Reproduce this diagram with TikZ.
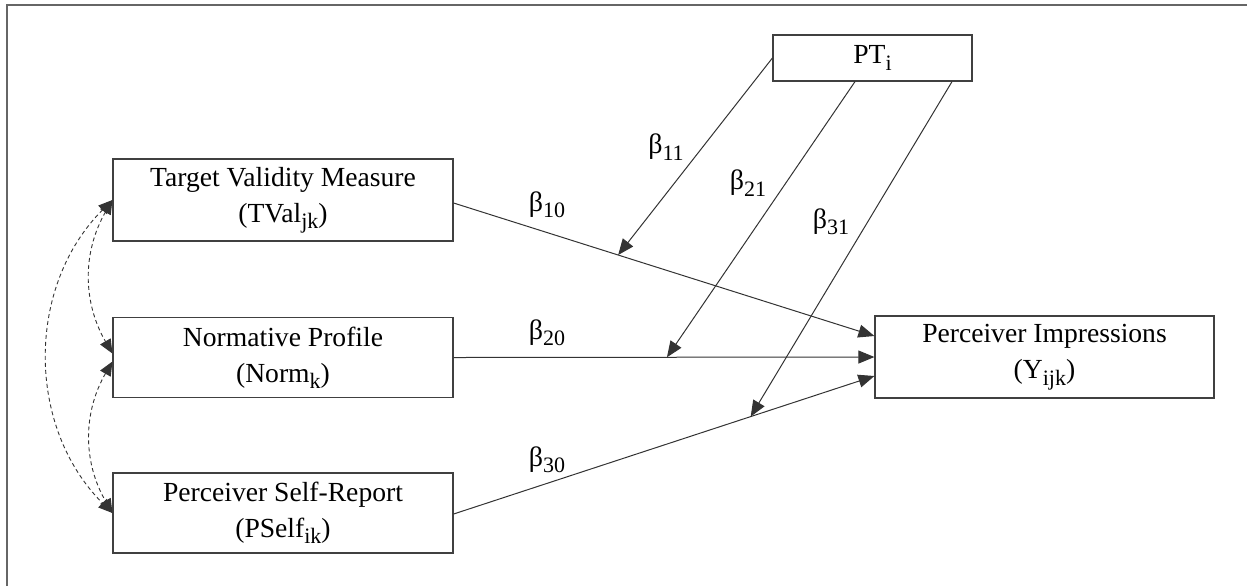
\documentclass[tikz,border=0pt]{standalone}
\usepackage{fontspec}
\setmainfont{Liberation Serif}
\usetikzlibrary{arrows.meta,calc}
\newcommand{\lowidx}[1]{\raisebox{-3.2pt}{\fontsize{11}{11}\selectfont #1}}
\tikzset{
  box/.style={draw=black!75, line width=0.6pt, minimum width=170pt, minimum height=40pt, align=center, inner sep=0pt, font=\fontsize{13.8}{18}\selectfont},
  link/.style={-{Triangle[length=8pt,width=6.5pt]}, line width=0.5pt, draw=black!80},
  corr/.style={{Triangle[length=7pt,width=6pt]}-{Triangle[length=7pt,width=6pt]}, dash pattern=on 2pt off 1.5pt, line width=0.45pt, draw=black!80},
  coef/.style={font=\fontsize{14}{16}\selectfont, inner sep=1pt},
}
\begin{document}
\begin{tikzpicture}[x=0.5pt,y=-0.5pt]
\useasboundingbox (0,0) rectangle (1247,586);
\draw[black!60, line width=0.75pt] (7,586) -- (7,5) -- (1247,5);

\node[box, minimum height=41pt] (tval) at (283,200) {Target Validity Measure\\(TVal\lowidx{jk})};
\node[box] (norm) at (283,357.5) {Normative Profile\\(Norm\lowidx{k})};
\node[box] (pself) at (283,513) {Perceiver Self-Report\\(PSelf\lowidx{ik})};
\node[box, minimum width=169.5pt, minimum height=41pt] (yijk) at (1044.5,357) {Perceiver Impressions\\(Y\lowidx{ijk})};
\node[box, minimum width=99.5pt, minimum height=23pt] (pt) at (872.5,58) {PT\lowidx{i}};

\draw[link] ($(tval.east)+(0,3)$) -- coordinate[pos=0.391] (m1) ($(yijk.west)+(0,-21)$);
\draw[link] (norm.east) -- coordinate[pos=0.507] (m2) (yijk.west);
\draw[link] ($(pself.east)+(0,1)$) -- coordinate[pos=0.706] (m3) ($(yijk.west)+(0,19)$);

\draw[link] (pt.west) -- (m1);
\draw[link] ($(pt.south)+(-17.5,0)$) -- (m2);
\draw[link] ($(pt.south)+(79.5,0)$) -- (m3);

\draw[corr] (tval.west) to[bend right=30] ($(norm.west)+(0,-4)$);
\draw[corr] ($(norm.west)+(0,4)$) to[bend right=30] (pself.west);
\draw[corr] (tval.west) to[bend right=45] (pself.west);

\node[coef] (b10) at (547,205) {β\lowidx{10}};
\node[coef] (b20) at (547,333) {β\lowidx{20}};
\node[coef] (b30) at (547,460) {β\lowidx{30}};
\node[coef] (b11) at (666,147) {β\lowidx{11}};
\node[coef] (b21) at (748,183) {β\lowidx{21}};
\node[coef] (b31) at (831,222) {β\lowidx{31}};

\end{tikzpicture}
\end{document}
